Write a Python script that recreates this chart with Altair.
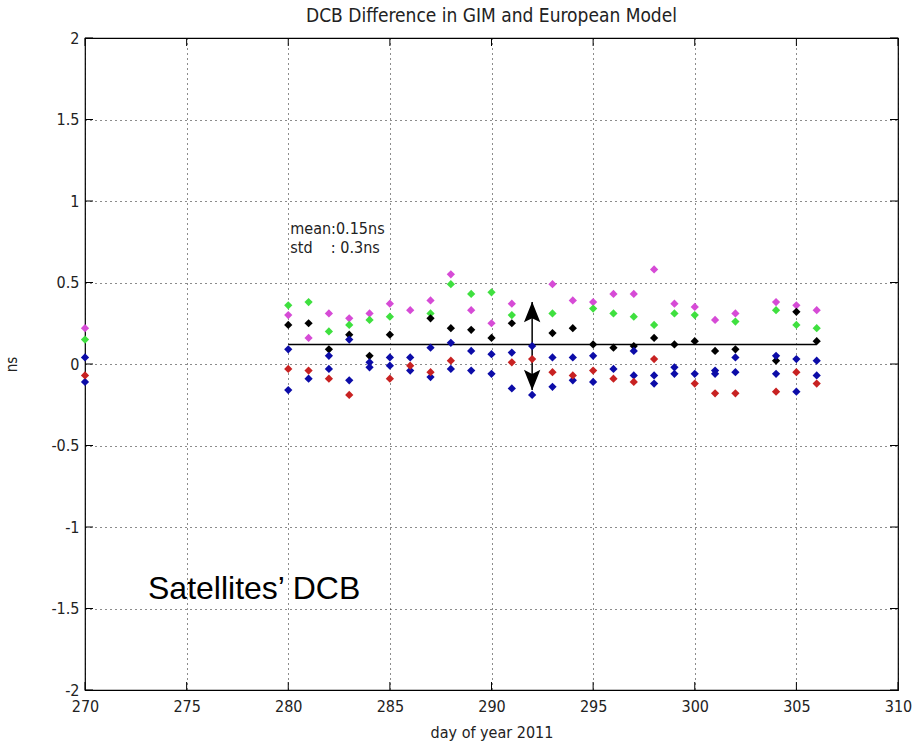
import altair as alt
import pandas as pd

days = [270, 280, 281, 282, 283, 284, 285, 286, 287, 288, 289, 290, 291, 292,
        293, 294, 295, 296, 297, 298, 299, 300, 301, 302, 304, 305, 306]
magenta = [0.22, 0.30, 0.16, 0.31, 0.28, 0.31, 0.37, 0.33, 0.39, 0.55, 0.33, 0.25, 0.37, None,
           0.49, 0.39, 0.38, 0.43, 0.43, 0.58, 0.37, 0.35, 0.27, 0.31, 0.38, 0.36, 0.33]
green = [0.15, 0.36, 0.38, 0.20, 0.24, 0.27, 0.29, None, 0.31, 0.49, 0.43, 0.44, 0.30, None,
         0.31, None, 0.34, 0.31, 0.29, 0.24, 0.31, 0.30, None, 0.26, 0.33, 0.24, 0.22]
black = [None, 0.24, 0.25, 0.09, 0.18, 0.05, 0.18, None, 0.28, 0.22, 0.21, 0.16, 0.25, None,
         0.19, 0.22, 0.12, 0.10, 0.11, 0.16, 0.12, 0.14, 0.08, 0.09, 0.02, 0.32, 0.14]
blue_a = [0.04, 0.09, None, 0.05, 0.15, 0.01, 0.04, 0.04, 0.10, 0.13, 0.08, 0.06, 0.07, 0.11,
          0.04, 0.04, 0.05, None, 0.08, -0.07, -0.02, -0.06, -0.04, 0.04, 0.05, 0.03, 0.02]
blue_b = [-0.11, -0.16, -0.09, -0.03, -0.10, -0.02, -0.01, -0.04, -0.08, -0.03, -0.04, -0.06, -0.15, -0.19,
          -0.14, -0.10, -0.11, -0.03, -0.07, -0.12, -0.06, None, -0.06, -0.05, -0.06, -0.17, -0.07]
red = [-0.07, -0.03, -0.04, -0.09, -0.19, None, -0.09, -0.01, -0.05, 0.02, None, None, 0.01, 0.03,
       -0.05, -0.07, -0.04, -0.09, -0.11, 0.03, None, -0.12, -0.18, -0.18, -0.17, -0.05, -0.12]

series_names = ["magenta", "green", "black", "blue_a", "blue_b", "red"]
series_colors = ["#d64bd6", "#3fe03f", "#000000", "#0c0ca8", "#0c0ca8", "#c82222"]

mean_line_x = [280, 306]
mean_value = 0.12
arrow_day = 292
arrow_top = 0.38
arrow_bottom = -0.16

xticks = [270, 275, 280, 285, 290, 295, 300, 305, 310]
yticks = [-2, -1.5, -1, -0.5, 0, 0.5, 1, 1.5, 2]

annot_text = ["mean:0.15ns", "std\u00a0\u00a0\u00a0\u00a0:\u00a00.3ns"]
annot_x = [280.1, 280.1]
annot_y = [0.83, 0.71]

big_text = ["Satellites\u2019 DCB"]
big_x = [273.1]
big_y = [-1.38]

W, H = 813, 652
FONT = "DejaVu Sans Condensed, Liberation Sans"

rows = []
for name, vals in zip(series_names, [magenta, green, black, blue_a, blue_b, red]):
    for d, v in zip(days, vals):
        if v is not None:
            rows.append({"day": d, "value": v, "series": name})
pts = pd.DataFrame(rows)

xs = alt.Scale(domain=[270, 310], nice=False, zero=False)
ys = alt.Scale(domain=[-2, 2], nice=False, zero=False)

xaxis = alt.Axis(values=xticks, ticks=False, grid=True, gridDash=[1, 4], gridColor="#000000",
                 gridOpacity=0.9, labelFont=FONT, labelFontSize=16, labelColor="#222222",
                 labelPadding=8, labelFlush=False, labelOverlap=False, domain=False,
                 title="day of year 2011", titleFont=FONT,
                 titleFontSize=16, titleFontWeight="normal", titleColor="#222222", titleY=34,
                 titleBaseline="top")
yaxis = alt.Axis(values=yticks, ticks=False, grid=True, gridDash=[1, 4], gridColor="#000000",
                 gridOpacity=0.9, labelFont=FONT, labelFontSize=16, labelColor="#222222",
                 labelPadding=6, labelFlush=False, labelOverlap=False, domain=False,
                 labelExpr="toString(datum.value)", title="ns",
                 titleFont=FONT, titleFontSize=15, titleFontWeight="normal", titleColor="#222222",
                 titleX=-66, titleY=H / 2, titleAngle=-90, titleBaseline="bottom")

base_grid = alt.Chart(pd.DataFrame({"day": xticks[:1], "value": yticks[:1]})).mark_point(opacity=0).encode(
    x=alt.X("day:Q", scale=xs, axis=xaxis),
    y=alt.Y("value:Q", scale=ys, axis=yaxis),
)

points = alt.Chart(pts).mark_point(shape="diamond", filled=True, size=68, opacity=1).encode(
    x=alt.X("day:Q", scale=xs),
    y=alt.Y("value:Q", scale=ys),
    color=alt.Color("series:N", scale=alt.Scale(domain=series_names, range=series_colors), legend=None),
)

mean_df = pd.DataFrame({"day": [mean_line_x[0]], "day2": [mean_line_x[1]], "value": [mean_value]})
mean_rule = alt.Chart(mean_df).mark_rule(color="#000000", strokeWidth=1.5).encode(
    x=alt.X("day:Q", scale=xs), x2="day2:Q", y=alt.Y("value:Q", scale=ys)
)

arrow_df = pd.DataFrame({"day": [arrow_day], "value": [arrow_top], "value2": [arrow_bottom]})
arrow_rule = alt.Chart(arrow_df).mark_rule(color="#000000", strokeWidth=1.5).encode(
    x=alt.X("day:Q", scale=xs), y=alt.Y("value:Q", scale=ys), y2="value2:Q"
)
head_up = alt.Chart(pd.DataFrame({"day": [arrow_day], "value": [arrow_top]})).mark_point(
    shape="M-0.8,1L0,-1L0.8,1L0,0.6Z", filled=True, color="#000000", size=420, opacity=1, yOffset=10
).encode(x=alt.X("day:Q", scale=xs), y=alt.Y("value:Q", scale=ys))
head_down = alt.Chart(pd.DataFrame({"day": [arrow_day], "value": [arrow_bottom]})).mark_point(
    shape="M-0.8,-1L0,1L0.8,-1L0,-0.6Z", filled=True, color="#000000", size=420, opacity=1, yOffset=-10
).encode(x=alt.X("day:Q", scale=xs), y=alt.Y("value:Q", scale=ys))

tx = pd.DataFrame({"t": xticks})
ty = pd.DataFrame({"t": yticks})
tick_b = alt.Chart(tx).mark_rule(color="#000000").encode(
    x=alt.X("t:Q", scale=xs), y=alt.value(H), y2=alt.value(H - 8))
tick_t = alt.Chart(tx).mark_rule(color="#000000").encode(
    x=alt.X("t:Q", scale=xs), y=alt.value(0), y2=alt.value(8))
tick_l = alt.Chart(ty).mark_rule(color="#000000").encode(
    y=alt.Y("t:Q", scale=ys), x=alt.value(0), x2=alt.value(8))
tick_r = alt.Chart(ty).mark_rule(color="#000000").encode(
    y=alt.Y("t:Q", scale=ys), x=alt.value(W), x2=alt.value(W - 8))

annot = alt.Chart(pd.DataFrame({"day": annot_x, "value": annot_y, "txt": annot_text})).mark_text(
    align="left", baseline="middle", font=FONT, fontSize=16, color="#222222"
).encode(x=alt.X("day:Q", scale=xs), y=alt.Y("value:Q", scale=ys), text="txt:N")

big = alt.Chart(pd.DataFrame({"day": big_x, "value": big_y, "txt": big_text})).mark_text(
    align="left", baseline="middle", font="Liberation Sans", fontSize=32, color="#000000"
).encode(x=alt.X("day:Q", scale=xs), y=alt.Y("value:Q", scale=ys), text="txt:N")

chart = alt.layer(
    base_grid, tick_b, tick_t, tick_l, tick_r, mean_rule, arrow_rule, head_up, head_down,
    points, annot, big
).properties(
    width=W, height=H,
    title=alt.TitleParams("DCB Difference in GIM and European Model", font=FONT, fontSize=19,
                          fontWeight="normal", color="#222222", offset=4),
    autosize=alt.AutoSizeParams(type="none"),
    padding={"left": 85, "top": 38, "right": 24, "bottom": 52},
    background="#ffffff",
).configure_view(stroke="#000000", strokeWidth=1.2)

chart.save("out.html", embed_options={"renderer": "svg", "actions": False})
